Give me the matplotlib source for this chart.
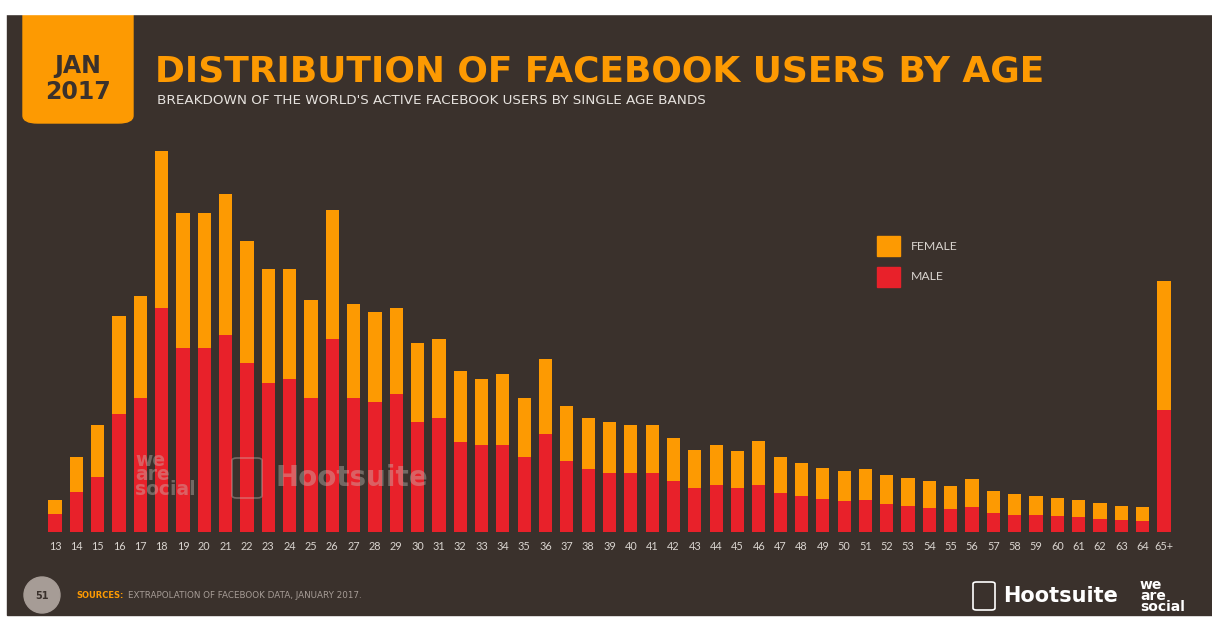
import matplotlib.pyplot as plt
from matplotlib.patches import Rectangle, FancyBboxPatch, Circle

# bar heights (relative units, no axis shown)
ages = [str(a) for a in range(13, 65)] + ['65+']
male = [17.4, 39.4, 55.0, 117.7, 133.4, 223.4, 184.0, 184.0, 196.4, 169.0,
        149.0, 153.0, 133.4, 192.4, 133.4, 129.4, 137.4, 109.7, 113.7, 90.0,
        86.4, 86.4, 74.7, 98.0, 70.4, 63.0, 58.7, 58.7, 58.7, 51.0,
        43.4, 47.0, 43.4, 47.0, 38.4, 35.7, 32.4, 31.0, 31.4, 28.0,
        25.7, 24.0, 22.4, 24.7, 18.7, 17.0, 16.4, 15.4, 15.0, 13.0,
        11.7, 11.0, 121.7]
female = [14.3, 35.0, 51.4, 98.3, 102.3, 157.3, 134.4, 134.4, 141.0, 121.7,
          114.0, 110.0, 98.0, 129.6, 94.3, 90.6, 86.3, 78.7, 78.7, 71.0,
          66.6, 71.0, 58.7, 74.7, 55.0, 50.7, 51.0, 47.7, 47.7, 43.0,
          38.6, 39.4, 37.3, 43.4, 36.0, 33.3, 31.0, 30.0, 31.6, 29.0,
          27.7, 27.0, 23.6, 27.7, 21.7, 20.4, 19.0, 18.0, 16.7, 15.4,
          14.0, 13.4, 129.3]

W, H = 1212, 617
bg = '#3a312c'
orange = '#fd9a02'
red = '#e8212a'
light = '#d9d4cf'

def fx(x):
    return x / W

def fy(y):
    return 1 - y / H

fig = plt.figure(figsize=(W / 100, H / 100), dpi=100, facecolor='white')

# dark slide background + orange date tab
fig.patches.append(Rectangle((fx(7), fy(615)), fx(W - 7), (615 - 14) / H,
                             transform=fig.transFigure, color=bg, zorder=-3))
fig.patches.append(FancyBboxPatch((fx(23), fy(123)), fx(110), (123 - 0) / H,
                                  boxstyle='round,pad=0,rounding_size=0.012',
                                  transform=fig.transFigure, color=orange, zorder=-2))
fig.patches.append(Rectangle((0, fy(14)), 1, 14 / H, transform=fig.transFigure,
                             color='white', zorder=-1))

fig.text(fx(78), fy(66), 'JAN', ha='center', va='center', fontsize=17,
         fontweight='bold', color='#3a312c')
fig.text(fx(78), fy(92), '2017', ha='center', va='center', fontsize=17,
         fontweight='bold', color='#3a312c')

fig.text(fx(155), fy(71), 'DISTRIBUTION OF FACEBOOK USERS BY AGE', ha='left',
         va='center', fontsize=25.9, fontweight='bold', color=orange)
fig.text(fx(157), fy(100), "BREAKDOWN OF THE WORLD'S ACTIVE FACEBOOK USERS BY SINGLE AGE BANDS",
         ha='left', va='center', fontsize=9.7, color='#e6e2de')

# chart
ax = fig.add_axes([fx(33.67), fy(531.7), 1151.7 / W, 400 / H], zorder=2)
ax.set_facecolor('none')
x = list(range(len(ages)))
ax.bar(x, male, width=0.62, color=red, zorder=2)
ax.bar(x, female, width=0.62, bottom=male, color=orange, zorder=2)
ax.set_xlim(-1, 53)
ax.set_ylim(0, 400)
ax.set_xticks(x)
ax.set_xticklabels(ages, fontsize=7.8, color=light, family='Lato')
ax.tick_params(axis='x', length=0, pad=7)
ax.set_yticks([])
for s in ax.spines.values():
    s.set_visible(False)

# watermarks over the bars
fig.text(fx(135), fy(475), 'we\nare\nsocial', ha='left', va='center', fontsize=13.5,
         fontweight='bold', color='#c8bfba', alpha=0.4, linespacing=0.68, zorder=5)
fig.patches.append(FancyBboxPatch((fx(232), fy(498)), 30 / W, 40 / H,
                                  boxstyle='round,pad=0,rounding_size=0.004',
                                  transform=fig.transFigure, fill=False,
                                  edgecolor='#c8bfba', alpha=0.4, lw=1.2, zorder=5))
fig.text(fx(275), fy(478), 'Hootsuite', ha='left', va='center', fontsize=20,
         fontweight='bold', color='#c8bfba', alpha=0.4, zorder=5)

# legend
fig.patches.append(Rectangle((fx(877), fy(256)), 23 / W, 20 / H,
                             transform=fig.transFigure, color=orange, zorder=3))
fig.patches.append(Rectangle((fx(877), fy(287)), 23 / W, 20 / H,
                             transform=fig.transFigure, color=red, zorder=3))
fig.text(fx(911), fy(246), 'FEMALE', ha='left', va='center', fontsize=8.8,
         color=light, family='Lato')
fig.text(fx(911), fy(277), 'MALE', ha='left', va='center', fontsize=8.8,
         color=light, family='Lato')

# footer
fig.patches.append(Circle((0.42, (H - 595) / 100), 0.18, transform=fig.dpi_scale_trans,
                          color='#a69c96', zorder=3))
fig.text(fx(42), fy(596), '51', ha='center', va='center', fontsize=7,
         fontweight='bold', color='#3a312c')
fig.text(fx(76), fy(596), 'SOURCES:', ha='left', va='center', fontsize=6,
         fontweight='bold', color=orange)
fig.text(fx(128), fy(596), 'EXTRAPOLATION OF FACEBOOK DATA, JANUARY 2017.', ha='left',
         va='center', fontsize=6.3, color='#a69c96')

fig.patches.append(FancyBboxPatch((fx(973), fy(610)), 22 / W, 28 / H,
                                  boxstyle='round,pad=0,rounding_size=0.003',
                                  transform=fig.transFigure, fill=False,
                                  edgecolor='white', lw=1.2, zorder=3))
fig.text(fx(1003), fy(596), 'Hootsuite', ha='left', va='center', fontsize=15,
         fontweight='bold', color='white')
fig.text(fx(1140), fy(596), 'we\nare\nsocial', ha='left', va='center', fontsize=10,
         fontweight='bold', color='white', linespacing=0.75)

fig.savefig('out.png', dpi=100, facecolor='white')
